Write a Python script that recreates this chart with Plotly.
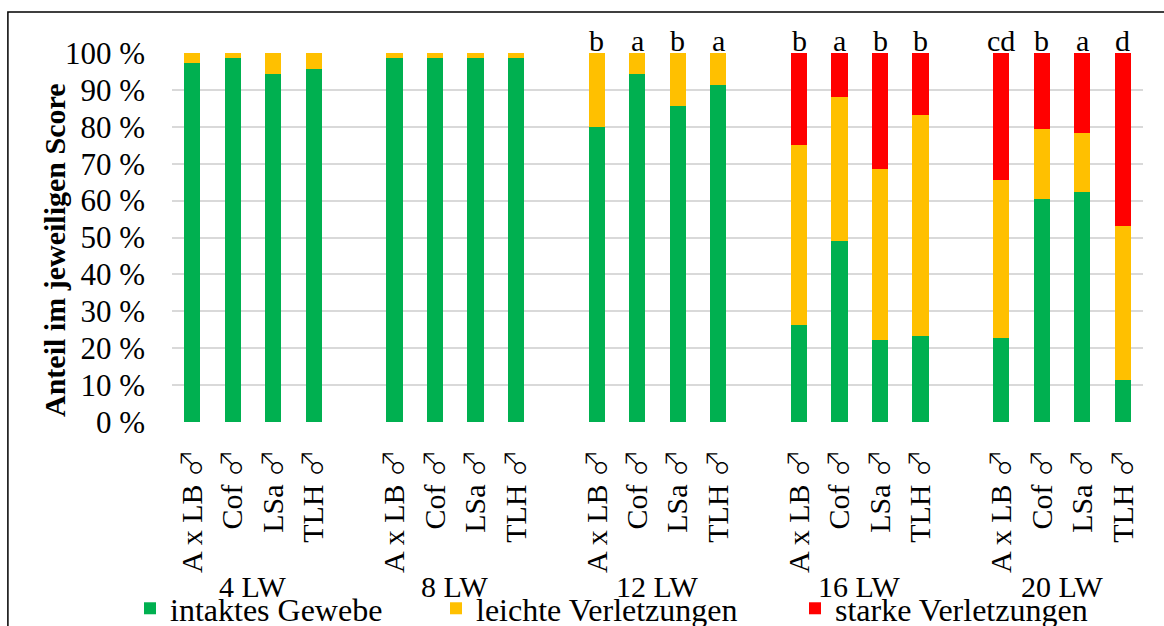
import plotly.graph_objects as go

# Rating of tissue damage per line and age (percentage shares per score)
weeks = ["4 LW", "8 LW", "12 LW", "16 LW", "20 LW"]
lines = ["A x LB ♂", "Cof ♂", "LSa ♂", "TLH ♂"]

intakt = [
    [97.2, 98.7, 94.4, 95.7],
    [98.6, 98.6, 98.6, 98.6],
    [80.0, 94.2, 85.7, 91.4],
    [26.4, 49.1, 22.2, 23.2],
    [22.8, 60.4, 62.4, 11.4],
]
leicht = [
    [2.8, 1.3, 5.6, 4.3],
    [1.4, 1.4, 1.4, 1.4],
    [20.0, 5.8, 14.3, 8.6],
    [48.6, 38.9, 46.3, 60.0],
    [42.7, 19.0, 15.9, 41.8],
]
stark = [
    [0.0, 0.0, 0.0, 0.0],
    [0.0, 0.0, 0.0, 0.0],
    [0.0, 0.0, 0.0, 0.0],
    [25.0, 12.0, 31.5, 16.8],
    [34.5, 20.6, 21.7, 46.8],
]
letters = [
    ["", "", "", ""],
    ["", "", "", ""],
    ["b", "a", "b", "a"],
    ["b", "a", "b", "b"],
    ["cd", "b", "a", "d"],
]
y_ticks = [0, 10, 20, 30, 40, 50, 60, 70, 80, 90, 100]

series_names = ["intaktes Gewebe", "leichte Verletzungen", "starke Verletzungen"]
series_colors = ["#00B050", "#FFC000", "#FF0000"]

FONT = "Liberation Serif"

# one empty slot between the week groups
slot = len(lines) + 1
xpos, xlab = [], []
for g in range(len(weeks)):
    for i, name in enumerate(lines):
        xpos.append(g * slot + i)
        # thin male sign in the category labels
        xlab.append(name.replace(
            "♂", "<span style='font-family:Noto Sans CJK JP;font-size:28px;font-weight:300'>♂</span>"))

def flat(rows):
    return [v for r in rows for v in r]

fig = go.Figure()
legend_ids = ["legend", "legend2", "legend3"]
for name, color, vals, lg in zip(series_names, series_colors, [intakt, leicht, stark], legend_ids):
    fig.add_trace(go.Bar(
        x=xpos, y=flat(vals), name=name,
        marker=dict(color=color, line=dict(width=0)),
        legend=lg,
    ))

# significance letters above each bar
for x, t, g, s, r in zip(xpos, flat(letters), flat(intakt), flat(leicht), flat(stark)):
    if t:
        fig.add_annotation(x=x, y=g + s + r, xref="x", yref="y", text=t,
                           showarrow=False, yanchor="bottom", yshift=-6,
                           font=dict(family=FONT, size=30, color="black"))

# week labels below the line labels
for g, w in enumerate(weeks):
    center = g * slot + (len(lines) - 1) / 2
    fig.add_annotation(x=center, y=-0.447, xref="x", yref="paper", text=w,
                       showarrow=False, yanchor="middle",
                       font=dict(family=FONT, size=30, color="black"))

# y axis title
fig.add_annotation(x=-0.140, y=0.465, xref="paper", yref="paper",
                   text="<b>Anteil im jeweiligen Score</b>", textangle=-90,
                   showarrow=False, font=dict(family=FONT, size=30, color="black"))

# chart frame
fig.add_shape(type="rect", xref="paper", yref="paper",
              x0=-0.169, x1=1.1, y0=-0.8, y1=1.111,
              line=dict(color="black", width=1.5), fillcolor="rgba(0,0,0,0)")

legend_style = dict(orientation="h", xref="container", yref="container",
                    xanchor="left", yanchor="middle", y=0.028,
                    font=dict(family=FONT, size=32, color="black"),
                    bgcolor="rgba(0,0,0,0)", borderwidth=0)

fig.update_layout(
    width=1164, height=626,
    margin=dict(l=172, r=21, t=53, b=204, autoexpand=False),
    paper_bgcolor="white", plot_bgcolor="white",
    barmode="stack", bargap=0.6,
    font=dict(family=FONT, size=30, color="black"),
    showlegend=True,
    legend=dict(legend_style, x=130 / 1164),
    legend2=dict(legend_style, x=436 / 1164),
    legend3=dict(legend_style, x=795 / 1164),
    xaxis=dict(
        range=[-0.5, len(weeks) * slot - 1.5],
        tickmode="array", tickvals=xpos, ticktext=xlab, tickangle=-90,
        ticks="", showgrid=False, zeroline=False, showline=False,
        ticklabelstandoff=20,
        tickfont=dict(family=FONT, size=30, color="black"),
    ),
    yaxis=dict(
        range=[0, 100], tickmode="array", tickvals=y_ticks,
        ticktext=[f"{v} %" for v in y_ticks],
        showgrid=True, gridcolor="#D9D9D9", gridwidth=2,
        zeroline=False, showline=False, ticks="",
        ticklabelstandoff=26,
        tickfont=dict(family=FONT, size=31, color="black"),
    ),
)

fig.write_html("out.html")
